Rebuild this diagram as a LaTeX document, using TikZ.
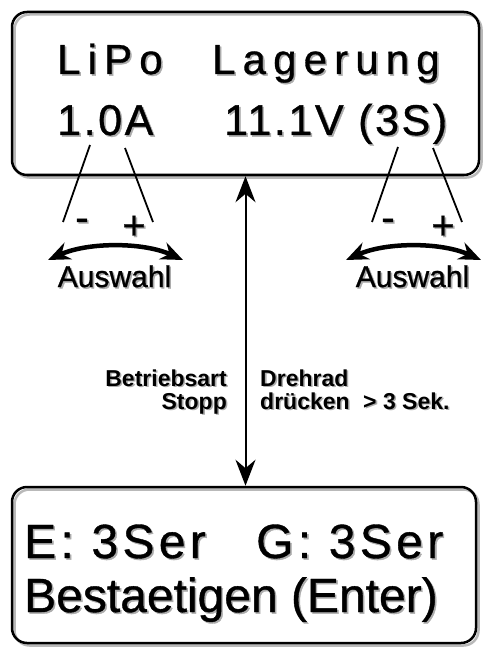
\documentclass[tikz,border=0pt]{standalone}
\usepackage{fontspec}
\setmainfont{Liberation Sans}
\newfontfamily\lcdwide[LetterSpace=17, FakeBold=0.8]{Liberation Sans}
\newfontfamily\lcdmid[LetterSpace=6, FakeBold=0.8]{Liberation Sans}
\newfontfamily\lcdbot[LetterSpace=9, FakeBold=0.8]{Liberation Sans}
\newfontfamily\lcdplain[FakeBold=0.8]{Liberation Sans}
\newcommand\lcdshadow[1]{\leavevmode\rlap{\hspace{1.6pt}\raisebox{-1.6pt}{\color{gray!65}#1}}#1}
\usetikzlibrary{arrows.meta}
\tikzset{
  display/.style={draw, line width=2.5pt, rounded corners=15pt, inner sep=0pt,
    preaction={draw=gray!55, line width=2.5pt, transform canvas={shift={(2.5pt,-2.5pt)}}}},
  lcdtext/.style={anchor=base west, inner sep=0pt},
  sign/.style={anchor=base, inner sep=0pt, font=\fontsize{40}{40}\selectfont\lcdplain},
  tick/.style={line width=1.8pt},
  turn/.style={line width=4.5pt, >={Stealth[length=22pt,width=18pt]}, <->},
  hint/.style={inner sep=0pt, font=\fontsize{23}{25}\selectfont\bfseries},
}
\begin{document}
\begin{tikzpicture}[x=1pt, y=-1pt]
  \useasboundingbox (0,0) rectangle (487,647);
  % Displays
  \node[display, minimum width=467pt, minimum height=163pt] (topdisp) at (245.5,93.5) {};
  \node[display, minimum width=464pt, minimum height=156pt] (botdisp) at (244,565) {};
  % Top display text
  \node[lcdtext, font=\fontsize{42}{44}\selectfont\lcdwide] (lipo) at (57,74) {\lcdshadow{LiPo}};
  \node[lcdtext, font=\fontsize{42}{44}\selectfont\lcdwide] (lager) at (212,74) {\lcdshadow{Lagerung}};
  \node[lcdtext, font=\fontsize{43}{45}\selectfont\lcdmid] (amp) at (57,135) {\lcdshadow{1.0A}};
  \node[lcdtext, font=\fontsize{43}{45}\selectfont\lcdmid] (volt) at (224,135) {\lcdshadow{11.1V (3S)}};
  % Bottom display text
  \node[lcdtext, font=\fontsize{48}{50}\selectfont\lcdbot] (ecell) at (24,558) {\lcdshadow{E: 3Ser}};
  \node[lcdtext, font=\fontsize{48}{50}\selectfont\lcdbot] (gcell) at (256,558) {\lcdshadow{G: 3Ser}};
  \node[lcdtext, font=\fontsize{48}{50}\selectfont\lcdplain] (enter) at (24,612) {\lcdshadow{Bestaetigen (Enter)}};
  % Selection marks, left
  \coordinate (ampa) at (90,145);
  \coordinate (ampb) at (125,148);
  \coordinate (ampc) at (63,222);
  \coordinate (ampd) at (153,222);
  \draw[tick] (ampa) -- (ampc);
  \draw[tick] (ampb) -- (ampd);
  \node[sign] (ampminus) at (82,231) {\lcdshadow{-}};
  \node[sign] (ampplus) at (134,239) {\lcdshadow{+}};
  \coordinate (ampl) at (48,260);
  \coordinate (ampr) at (183,260);
  \draw[turn] (ampl) .. controls (88,242) and (143,242) .. (ampr);
  \node[anchor=base, inner sep=0pt, font=\fontsize{30}{30}\selectfont\lcdplain] (ampsel) at (114.5,287) {\lcdshadow{Auswahl}};
  % Selection marks, right
  \coordinate (volta) at (398,147);
  \coordinate (voltb) at (433,148);
  \coordinate (voltc) at (372,222);
  \coordinate (voltd) at (462,222);
  \draw[tick] (volta) -- (voltc);
  \draw[tick] (voltb) -- (voltd);
  \node[sign] (voltminus) at (388,231) {\lcdshadow{-}};
  \node[sign] (voltplus) at (443,239) {\lcdshadow{+}};
  \coordinate (voltl) at (346,260);
  \coordinate (voltr) at (481,260);
  \draw[turn] (voltl) .. controls (386,242) and (441,242) .. (voltr);
  \node[anchor=base, inner sep=0pt, font=\fontsize{30}{30}\selectfont\lcdplain] (voltsel) at (412.5,287) {\lcdshadow{Auswahl}};
  % Mode change
  \draw[line width=2pt, >={Stealth[length=26pt,width=20pt]}, <->]
    (topdisp.south) -- (topdisp.south |- botdisp.north);
  \node[hint, anchor=base east] (mode) at (227,386) {\lcdshadow{Betriebsart}};
  \node[hint, anchor=base east] (stopp) at (227,409) {\lcdshadow{Stopp}};
  \node[hint, anchor=base west] (knob) at (260,386) {\lcdshadow{Drehrad}};
  \node[hint, anchor=base west] (press) at (260,409) {\lcdshadow{drücken}};
  \node[hint, anchor=base west] (hold) at (363,409) {\lcdshadow{> 3 Sek.}};
\end{tikzpicture}
\end{document}
